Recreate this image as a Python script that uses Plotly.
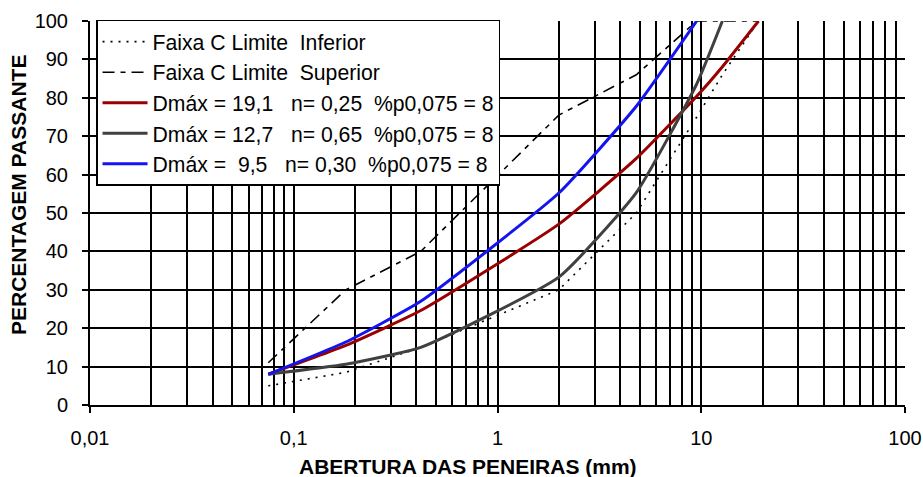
import plotly.graph_objects as go

# Sieve openings (mm) and percent passing for each curve
sieves = [0.075, 0.18, 0.42, 2.0, 4.8, 9.5, 12.7, 19.1]
faixa_inferior = [5, 8.5, 15, 30, 50, 75, 86, 100]
faixa_superior = [11, 30, 40, 75.5, 86, 100, 100, 100]
dmax_19 = [8, 15.5, 24.6, 47.1, 64.2, 80.4, 88.1, 100]
dmax_12 = [8, 10.6, 15.0, 33.3, 55.3, 83.6, 100]
dmax_9 = [8, 16.4, 27.0, 55.2, 77.8, 100]

names = [
    "Faixa C Limite\u00a0 Inferior",
    "Faixa C Limite\u00a0 Superior",
    "Dmáx = 19,1\u00a0\u00a0 n= 0,25\u00a0 %p0,075 = 8",
    "Dmáx = 12,7\u00a0\u00a0 n= 0,65\u00a0 %p0,075 = 8",
    "Dmáx =\u00a0 9,5\u00a0\u00a0 n= 0,30\u00a0 %p0,075 = 8",
]

x_tickvals = [0.01, 0.1, 1, 10, 100]
x_ticktext = ["0,01", "0,1", "1", "10", "100"]
minor_vals = [m * 10 ** e for e in (-2, -1, 0, 1) for m in range(2, 10)]

FONT = "Liberation Sans, Arial, sans-serif"
SMOOTH = dict(shape="spline", smoothing=0.45)

fig = go.Figure()
fig.add_trace(go.Scatter(x=sieves, y=faixa_inferior, mode="lines", name=names[0],
                         line=dict(color="black", width=1.6, dash="2px,6px")))
fig.add_trace(go.Scatter(x=sieves, y=faixa_superior, mode="lines", name=names[1],
                         line=dict(color="black", width=1.6, dash="12px,6px,5px,6px")))
fig.add_trace(go.Scatter(x=sieves, y=dmax_19, mode="lines", name=names[2],
                         line=dict(color="#990000", width=3, **SMOOTH)))
fig.add_trace(go.Scatter(x=sieves[:len(dmax_12)], y=dmax_12, mode="lines", name=names[3],
                         line=dict(color="#404040", width=3, **SMOOTH)))
fig.add_trace(go.Scatter(x=sieves[:len(dmax_9)], y=dmax_9, mode="lines", name=names[4],
                         line=dict(color="#1414f0", width=3, **SMOOTH)))

fig.update_layout(
    width=923, height=477,
    margin=dict(l=90, r=18, t=21, b=72),
    paper_bgcolor="white", plot_bgcolor="white",
    font=dict(family=FONT, size=20, color="black"),
    showlegend=True,
    legend=dict(x=0.0074, y=1.003, xanchor="left", yanchor="top",
                bgcolor="white", bordercolor="black", borderwidth=1.5,
                font=dict(size=21.2), itemwidth=45, tracegroupgap=0),
    xaxis=dict(type="log", range=[-2, 2], tickvals=x_tickvals, ticktext=x_ticktext,
               automargin=False,
               showgrid=True, gridcolor="black", gridwidth=2,
               showline=True, linecolor="black", linewidth=2,
               ticks="outside", ticklen=6, tickwidth=2, tickcolor="black",
               ticklabelstandoff=8, zeroline=False,
               minor=dict(tickvals=minor_vals, showgrid=True, gridcolor="black",
                          gridwidth=2, ticks="")),
    yaxis=dict(range=[0, 100], tickvals=list(range(0, 101, 10)), automargin=False,
               showgrid=True, gridcolor="black", gridwidth=2,
               showline=True, linecolor="black", linewidth=2,
               ticks="outside", ticklen=6, tickwidth=2, tickcolor="black",
               ticklabelstandoff=10, zeroline=False),
    annotations=[
        dict(text="<b>ABERTURA DAS PENEIRAS (mm)</b>", xref="paper", yref="paper",
             x=(468 - 90) / 815, y=(405 - 466) / 384, xanchor="center", yanchor="middle",
             showarrow=False, font=dict(size=21, family=FONT)),
        dict(text="<b>PERCENTAGEM PASSANTE</b>", xref="paper", yref="paper",
             x=(18 - 90) / 815, y=(405 - 195) / 384, xanchor="center", yanchor="middle",
             textangle=-90, showarrow=False, font=dict(size=21, family=FONT)),
    ],
)

fig.write_html("out.html")
